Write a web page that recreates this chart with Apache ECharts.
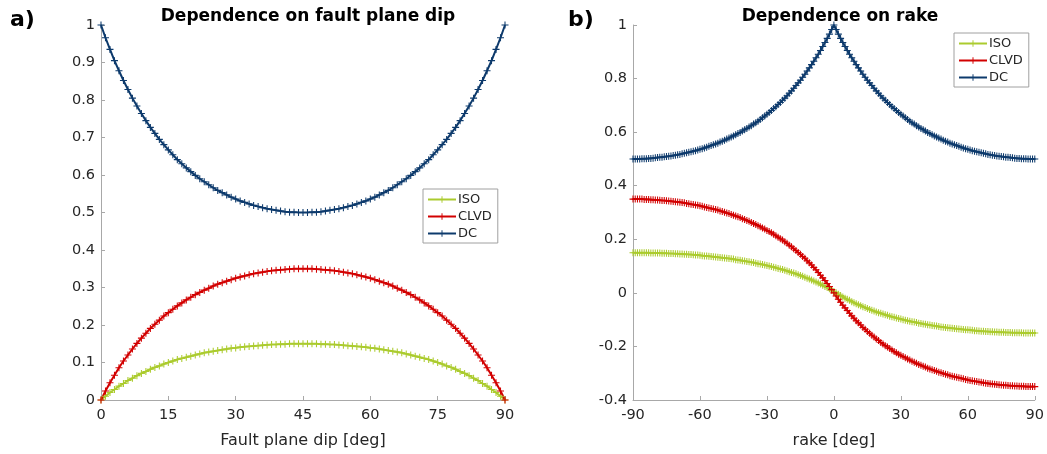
<!DOCTYPE html>
<html><head><meta charset="utf-8">
<script src="https://cdn.jsdelivr.net/npm/echarts@6/dist/echarts.min.js"></script>
<style>html,body{margin:0;padding:0;background:#fff}#c{width:1047px;height:454px}</style>
</head><body><div id="c"></div>
<script>
// Panel a) x = fault plane dip 0..90 deg (1 deg steps)
const dipTicks = [0, 15, 30, 45, 60, 75, 90];
const dipIso = [0,0.010,0.020,0.028,0.037,0.044,0.052,0.058,0.065,0.071,0.076,0.082,0.087,0.091,0.096,0.100,0.104,0.108,0.111,0.114,0.117,0.120,0.123,0.126,0.128,0.130,0.132,0.134,0.136,0.138,0.139,0.141,0.142,0.143,0.144,0.145,0.146,0.147,0.148,0.148,0.149,0.149,0.150,0.150,0.150,0.150,
0.150,0.150,0.150,0.149,0.149,0.148,0.148,0.147,0.146,0.145,0.144,0.143,0.142,0.141,0.139,0.138,0.136,0.134,0.132,0.130,0.128,0.126,0.123,0.120,0.117,0.114,0.111,0.108,0.104,0.100,0.096,0.091,0.087,0.082,0.076,0.071,0.065,0.058,0.052,0.044,0.037,0.028,0.020,0.010,0];
const dipClvd = [0,0.024,0.046,0.066,0.086,0.104,0.120,0.136,0.151,0.165,0.178,0.191,0.202,0.213,0.224,0.233,0.242,0.251,0.259,0.267,0.274,0.281,0.287,0.293,0.298,0.304,0.309,0.313,0.317,0.321,0.325,0.328,0.331,0.334,0.337,0.339,0.341,0.343,0.345,0.346,0.347,0.348,0.349,0.350,0.350,0.350,
0.350,0.350,0.349,0.348,0.347,0.346,0.345,0.343,0.341,0.339,0.337,0.334,0.331,0.328,0.325,0.321,0.317,0.313,0.309,0.304,0.298,0.293,0.287,0.281,0.274,0.267,0.259,0.251,0.242,0.233,0.224,0.213,0.202,0.191,0.178,0.165,0.151,0.136,0.120,0.104,0.086,0.066,0.046,0.024,0];
const dipDc = [1,0.966,0.935,0.905,0.878,0.852,0.828,0.805,0.784,0.764,0.745,0.727,0.711,0.695,0.681,0.667,0.654,0.641,0.630,0.619,0.609,0.599,0.590,0.582,0.574,0.566,0.559,0.553,0.547,0.541,0.536,0.531,0.527,0.523,0.519,0.516,0.513,0.510,0.508,0.506,0.504,0.502,0.501,0.501,0.500,0.500,
0.500,0.501,0.501,0.502,0.504,0.506,0.508,0.510,0.513,0.516,0.519,0.523,0.527,0.531,0.536,0.541,0.547,0.553,0.559,0.566,0.574,0.582,0.590,0.599,0.609,0.619,0.630,0.641,0.654,0.667,0.681,0.695,0.711,0.727,0.745,0.764,0.784,0.805,0.828,0.852,0.878,0.905,0.935,0.966,1];

// Panel b) x = rake -90..90 deg (1 deg steps)
const rakeTicks = [-90, -60, -30, 0, 30, 60, 90];
const rakeIso = [0.150,0.150,0.150,0.150,0.150,0.150,0.150,0.150,0.149,0.149,0.149,0.149,0.149,0.148,0.148,0.148,0.147,0.147,0.147,0.146,0.146,0.145,0.145,0.144,0.144,0.143,0.143,0.142,0.141,0.141,0.140,0.139,0.138,0.138,0.137,0.136,0.135,0.134,0.133,0.132,0.131,0.130,0.129,0.128,0.127,0.126,0.124,0.123,0.122,0.120,0.119,0.117,0.116,0.114,0.113,0.111,0.109,0.108,0.106,0.104,0.102,0.100,0.098,0.096,0.094,0.091,0.089,0.087,0.084,0.082,0.079,0.076,0.074,0.071,0.068,0.065,0.062,0.058,0.055,0.052,0.048,0.044,0.041,0.037,0.033,0.028,0.024,0.020,0.015,0.010,0.005,
0,-0.005,-0.010,-0.015,-0.020,-0.024,-0.028,-0.033,-0.037,-0.041,-0.044,-0.048,-0.052,-0.055,-0.058,-0.062,-0.065,-0.068,-0.071,-0.074,-0.076,-0.079,-0.082,-0.084,-0.087,-0.089,-0.091,-0.094,-0.096,-0.098,-0.100,-0.102,-0.104,-0.106,-0.108,-0.109,-0.111,-0.113,-0.114,-0.116,-0.117,-0.119,-0.120,-0.122,-0.123,-0.124,-0.126,-0.127,-0.128,-0.129,-0.130,-0.131,-0.132,-0.133,-0.134,-0.135,-0.136,-0.137,-0.138,-0.138,-0.139,-0.140,-0.141,-0.141,-0.142,-0.143,-0.143,-0.144,-0.144,-0.145,-0.145,-0.146,-0.146,-0.147,-0.147,-0.147,-0.148,-0.148,-0.148,-0.149,-0.149,-0.149,-0.149,-0.149,-0.150,-0.150,-0.150,-0.150,-0.150,-0.150,-0.150];
const rakeClvd = [0.350,0.350,0.350,0.350,0.350,0.349,0.349,0.349,0.348,0.348,0.347,0.347,0.346,0.345,0.345,0.344,0.343,0.342,0.341,0.340,0.339,0.338,0.337,0.336,0.334,0.333,0.331,0.330,0.328,0.327,0.325,0.323,0.321,0.319,0.317,0.315,0.313,0.311,0.309,0.306,0.304,0.301,0.298,0.296,0.293,0.290,0.287,0.284,0.281,0.277,0.274,0.270,0.267,0.263,0.259,0.255,0.251,0.247,0.242,0.238,0.233,0.229,0.224,0.219,0.213,0.208,0.202,0.197,0.191,0.185,0.178,0.172,0.165,0.158,0.151,0.144,0.136,0.129,0.120,0.112,0.104,0.095,0.086,0.076,0.066,0.056,0.046,0.035,0.024,0.012,
0,-0.012,-0.024,-0.035,-0.046,-0.056,-0.066,-0.076,-0.086,-0.095,-0.104,-0.112,-0.120,-0.129,-0.136,-0.144,-0.151,-0.158,-0.165,-0.172,-0.178,-0.185,-0.191,-0.197,-0.202,-0.208,-0.213,-0.219,-0.224,-0.229,-0.233,-0.238,-0.242,-0.247,-0.251,-0.255,-0.259,-0.263,-0.267,-0.270,-0.274,-0.277,-0.281,-0.284,-0.287,-0.290,-0.293,-0.296,-0.298,-0.301,-0.304,-0.306,-0.309,-0.311,-0.313,-0.315,-0.317,-0.319,-0.321,-0.323,-0.325,-0.327,-0.328,-0.330,-0.331,-0.333,-0.334,-0.336,-0.337,-0.338,-0.339,-0.340,-0.341,-0.342,-0.343,-0.344,-0.345,-0.345,-0.346,-0.347,-0.347,-0.348,-0.348,-0.349,-0.349,-0.349,-0.350,-0.350,-0.350,-0.350,-0.350];
const rakeDc = [0.500,0.500,0.500,0.500,0.501,0.501,0.501,0.502,0.502,0.503,0.504,0.505,0.506,0.506,0.508,0.509,0.510,0.511,0.513,0.514,0.516,0.517,0.519,0.521,0.523,0.525,0.527,0.529,0.531,0.533,0.536,0.538,0.541,0.544,0.547,0.550,0.553,0.556,0.559,0.563,0.566,0.570,0.574,0.578,0.582,0.586,0.590,0.595,0.599,0.604,0.609,0.614,0.619,0.624,0.630,0.635,0.641,0.647,0.654,0.660,0.667,0.673,0.681,0.688,0.695,0.703,0.711,0.719,0.727,0.736,0.745,0.754,0.764,0.774,0.784,0.794,0.805,0.816,0.828,0.840,0.852,0.865,0.878,0.891,0.905,0.920,0.935,0.950,0.966,0.983,
1,0.983,0.966,0.950,0.935,0.920,0.905,0.891,0.878,0.865,0.852,0.840,0.828,0.816,0.805,0.794,0.784,0.774,0.764,0.754,0.745,0.736,0.727,0.719,0.711,0.703,0.695,0.688,0.681,0.673,0.667,0.660,0.654,0.647,0.641,0.635,0.630,0.624,0.619,0.614,0.609,0.604,0.599,0.595,0.590,0.586,0.582,0.578,0.574,0.570,0.566,0.563,0.559,0.556,0.553,0.550,0.547,0.544,0.541,0.538,0.536,0.533,0.531,0.529,0.527,0.525,0.523,0.521,0.519,0.517,0.516,0.514,0.513,0.511,0.510,0.509,0.508,0.506,0.506,0.505,0.504,0.503,0.502,0.502,0.501,0.501,0.501,0.500,0.500,0.500,0.500];

const seriesNames = ['ISO', 'CLVD', 'DC'];
const colors = ['#abcb2e', '#d20000', '#0d3a6c'];

const dipX = dipIso.map((_, i) => i);
const rakeX = rakeIso.map((_, i) => i - 90);

const FONT = 'DejaVu Sans';
const plus = 'path://M-1,-0.15 L-0.15,-0.15 L-0.15,-1 L0.15,-1 L0.15,-0.15 L1,-0.15 L1,0.15 L0.15,0.15 L0.15,1 L-0.15,1 L-0.15,0.15 L-1,0.15 Z';
const axisCol = '#a8a8a8';
const txtCol = '#262626';

function xAxis(gi, min, max, interval, name) {
  return {
    type: 'value', gridIndex: gi, min, max, interval,
    name, nameLocation: 'middle', nameGap: 33,
    nameTextStyle: { fontFamily: FONT, fontSize: 16, color: txtCol },
    axisLine: { show: true, onZero: false, lineStyle: { color: axisCol, width: 1 } },
    axisTick: { show: true, inside: true, length: 4, lineStyle: { color: axisCol } },
    axisLabel: { fontFamily: FONT, fontSize: 14.5, color: txtCol, margin: 8 },
    splitLine: { show: false }
  };
}
function yAxis(gi, min, max, interval) {
  return {
    type: 'value', gridIndex: gi, min, max, interval,
    axisLine: { show: true, onZero: false, lineStyle: { color: axisCol, width: 1 } },
    axisTick: { show: true, inside: true, length: 4, lineStyle: { color: axisCol } },
    axisLabel: { fontFamily: FONT, fontSize: 14.5, color: txtCol, margin: 6 },
    splitLine: { show: false }
  };
}
function mk(name, idx, gi, xs, ys) {
  return {
    type: 'line', name, xAxisIndex: gi, yAxisIndex: gi,
    data: xs.map((x, i) => [x, ys[i]]),
    symbol: plus, symbolSize: 7, showSymbol: true, showAllSymbol: true,
    lineStyle: { color: colors[idx], width: 2 },
    itemStyle: { color: colors[idx] },
    animation: false, silent: true
  };
}
const legendBase = {
  orient: 'vertical', data: seriesNames, backgroundColor: '#fff',
  borderColor: '#a0a0a0', borderWidth: 1, borderRadius: 0,
  padding: [4, 6, 3, 4], itemGap: 4, itemWidth: 28, itemHeight: 8,
  textStyle: { fontFamily: FONT, fontSize: 13, color: txtCol, padding: [0, 0, 0, -3] },
  selectedMode: false
};

const chart = echarts.init(document.getElementById('c'), null, { renderer: 'canvas' });
chart.setOption({
  backgroundColor: '#fff',
  animation: false,
  title: [
    { text: 'Dependence on fault plane dip', left: 303, top: 3, textAlign: 'center',
      textStyle: { fontFamily: FONT, fontSize: 17, fontWeight: 'bold', color: '#000' } },
    { text: 'Dependence on rake', left: 835, top: 3, textAlign: 'center',
      textStyle: { fontFamily: FONT, fontSize: 17, fontWeight: 'bold', color: '#000' } },
    { text: 'a)', left: 5, top: 4, textStyle: { fontFamily: FONT, fontSize: 22, fontWeight: 'bold', color: '#000' } },
    { text: 'b)', left: 563, top: 4, textStyle: { fontFamily: FONT, fontSize: 22, fontWeight: 'bold', color: '#000' } }
  ],
  grid: [
    { left: 101, width: 404, top: 25, height: 381 },
    { left: 633, width: 404, top: 25, height: 381 }
  ],
  xAxis: [
    xAxis(0, dipTicks[0], dipTicks[dipTicks.length - 1], 15, 'Fault plane dip [deg]'),
    xAxis(1, rakeTicks[0], rakeTicks[rakeTicks.length - 1], 30, 'rake [deg]')
  ],
  yAxis: [ yAxis(0, 0, 1, 0.1), yAxis(1, -0.4, 1, 0.2) ],
  legend: [
    Object.assign({}, legendBase, { left: 423, top: 189 }),
    Object.assign({}, legendBase, { left: 954, top: 33 })
  ],
  series: [
    mk('ISO', 0, 0, dipX, dipIso),
    mk('CLVD', 1, 0, dipX, dipClvd),
    mk('DC', 2, 0, dipX, dipDc),
    mk('ISO', 0, 1, rakeX, rakeIso),
    mk('CLVD', 1, 1, rakeX, rakeClvd),
    mk('DC', 2, 1, rakeX, rakeDc)
  ]
});
</script></body></html>
